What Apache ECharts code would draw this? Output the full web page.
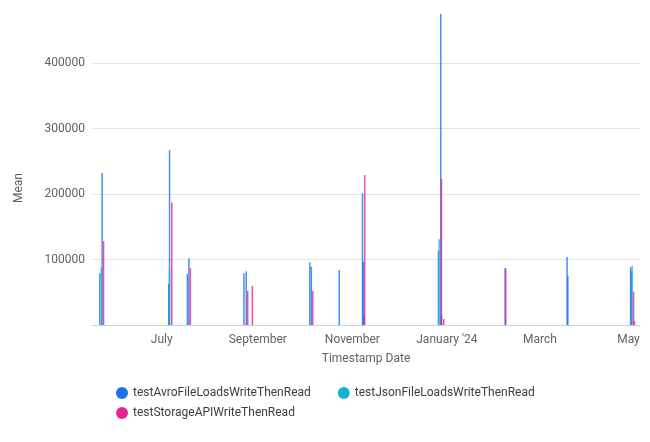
<!DOCTYPE html>
<html>
<head>
<meta charset="utf-8">
<script src="https://cdn.jsdelivr.net/npm/echarts@6/dist/echarts.min.js"></script>
<style>
html,body{margin:0;padding:0;background:#fff;}
#chart{width:650px;height:442px;}
</style>
</head>
<body>
<div id="chart"></div>
<script>
const seriesNames = ['testAvroFileLoadsWriteThenRead', 'testJsonFileLoadsWriteThenRead', 'testStorageAPIWriteThenRead'];

const avroData = [
  ['2023-05-23 00:00', 79000],
  ['2023-05-24 12:00', 232000],
  ['2023-07-06 12:00', 63000],
  ['2023-07-07 00:00', 267000],
  ['2023-07-18 12:00', 78000],
  ['2023-07-19 12:00', 102000],
  ['2023-08-24 00:00', 79000],
  ['2023-08-25 12:00', 82000],
  ['2023-10-05 12:00', 96000],
  ['2023-10-06 12:00', 89000],
  ['2023-10-24 12:00', 84000],
  ['2023-11-08 12:00', 201000],
  ['2023-11-09 00:00', 96000],
  ['2023-11-09 12:00', 14000],
  ['2023-12-27 12:00', 114000],
  ['2023-12-29 00:00', 475000],
  ['2023-12-29 12:00', 15000],
  ['2024-02-08 12:00', 87000],
  ['2024-03-19 12:00', 104000],
  ['2024-03-20 00:00', 75000],
  ['2024-04-29 12:00', 88000],
  ['2024-04-30 00:00', 82000]
];

const jsonData = [
  ['2023-05-23 00:00', 88000],
  ['2023-07-06 00:00', 85000],
  ['2023-12-27 00:00', 131000],
  ['2024-04-29 12:00', 90000]
];

const storageData = [
  ['2023-05-23 12:00', 128000],
  ['2023-07-06 12:00', 187000],
  ['2023-07-18 12:00', 87000],
  ['2023-08-24 12:00', 52000],
  ['2023-08-27 12:00', 60000],
  ['2023-10-05 12:00', 52000],
  ['2023-11-08 00:00', 229000],
  ['2023-12-27 12:00', 223000],
  ['2023-12-29 00:00', 9000],
  ['2024-02-07 00:00', 86000],
  ['2024-04-29 12:00', 51000],
  ['2024-04-30 00:00', 6000]
];

const tickDates = ['2023-07-01 00:00', '2023-09-01 00:00', '2023-11-01 00:00', '2024-01-01 00:00', '2024-03-01 00:00', '2024-05-01 00:00'];
const tickLabels = ['July', 'September', 'November', "January '24", 'March', 'May'];

const axisStart = '2023-05-17 00:00';
const axisEnd = '2024-05-04 14:00';

const colors = ['#1a73e8', '#12b5cb', '#e52592'];

function ts(s) { return new Date(s.replace(' ', 'T') + ':00').getTime(); }
const tickTimes = tickDates.map(ts);
function toPoints(arr) { return arr.map(p => [ts(p[0]), p[1]]); }

const chart = echarts.init(document.getElementById('chart'), null, {renderer: 'canvas'});
const font = 'Roboto';

function makeSeries(name, data, color) {
  return {
    name: name,
    type: 'bar',
    data: toPoints(data),
    barWidth: 1.5,
    barGap: '0%',
    itemStyle: {color: color, opacity: 0.8},
    emphasis: {disabled: true}
  };
}

chart.setOption({
  animation: false,
  color: colors,
  textStyle: {fontFamily: font},
  grid: {left: 92, right: 10, top: 14, bottom: 117, containLabel: false},
  xAxis: {
    type: 'value',
    min: ts(axisStart),
    max: ts(axisEnd),
    name: 'Timestamp Date',
    nameLocation: 'middle',
    nameGap: 28,
    nameTextStyle: {color: '#5f6368', fontSize: 12, fontFamily: font},
    axisLine: {show: true, lineStyle: {color: '#c9cfdb', width: 1}},
    axisTick: {show: false},
    splitLine: {show: false},
    axisLabel: {
      customValues: tickTimes,
      color: '#5f6368',
      fontSize: 12,
      fontFamily: font,
      margin: 9,
      hideOverlap: false,
      formatter: function (value) {
        let best = 0, bd = Infinity;
        for (let i = 0; i < tickTimes.length; i++) {
          const d = Math.abs(tickTimes[i] - value);
          if (d < bd) { bd = d; best = i; }
        }
        if (best === tickTimes.length - 1) return '{m|' + tickLabels[best] + '}';
        return tickLabels[best];
      },
      rich: {m: {color: '#5f6368', fontSize: 12, fontFamily: font, padding: [0, 12, 0, 0]}}
    }
  },
  yAxis: {
    type: 'value',
    min: 0,
    max: 475000,
    interval: 100000,
    name: 'Mean',
    nameLocation: 'middle',
    nameGap: 67,
    nameTextStyle: {color: '#5f6368', fontSize: 12, fontFamily: font, padding: [0, 37, 0, 0]},
    axisLine: {show: false},
    axisTick: {show: false},
    axisLabel: {
      color: '#5f6368', fontSize: 12, fontFamily: font, margin: 7,
      showMinLabel: false, showMaxLabel: false,
      formatter: function (v) { return String(v); }
    },
    splitLine: {show: true, showMinLine: false, showMaxLine: false, lineStyle: {color: '#e3e3e3', width: 1}}
  },
  legend: [
    {
      data: [seriesNames[0], seriesNames[1]],
      left: 111, top: 382,
      icon: 'circle', itemWidth: 12, itemHeight: 12, itemGap: 27,
      itemStyle: {opacity: 1},
      textStyle: {color: '#3c4043', fontSize: 12, fontFamily: font},
      selectedMode: false
    },
    {
      data: [seriesNames[2]],
      left: 111, top: 402,
      icon: 'circle', itemWidth: 12, itemHeight: 12, itemGap: 27,
      itemStyle: {opacity: 1},
      textStyle: {color: '#3c4043', fontSize: 12, fontFamily: font},
      selectedMode: false
    }
  ],
  series: [
    makeSeries(seriesNames[0], avroData, colors[0]),
    makeSeries(seriesNames[1], jsonData, colors[1]),
    makeSeries(seriesNames[2], storageData, colors[2])
  ]
});
</script>
</body>
</html>
